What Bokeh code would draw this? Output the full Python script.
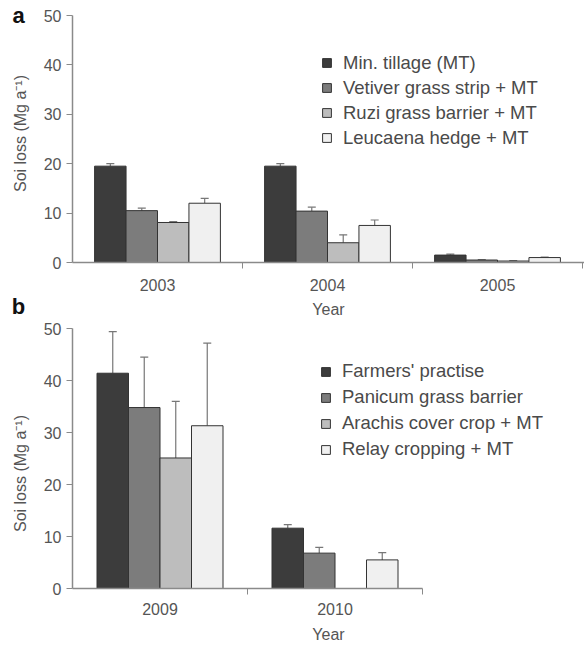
import math
from bokeh.plotting import figure
from bokeh.models import FixedTicker, Legend, LegendItem, Whisker, ColumnDataSource, TeeHead, Range1d
from bokeh.layouts import column, row
from bokeh.core.properties import value
from bokeh.embed import file_html
from bokeh.resources import INLINE

# ---- data: panel a ----
years_a = ["2003", "2004", "2005"]
series_a = ["Min. tillage (MT)", "Vetiver grass strip + MT", "Ruzi grass barrier + MT", "Leucaena hedge + MT"]
mt_a = [19.5, 19.5, 1.5]
mt_a_err = [0.5, 0.5, 0.2]
vetiver_a = [10.5, 10.4, 0.5]
vetiver_a_err = [0.5, 0.8, 0.1]
ruzi_a = [8.1, 4.0, 0.3]
ruzi_a_err = [0.2, 1.6, 0.1]
leucaena_a = [12.0, 7.5, 1.0]
leucaena_a_err = [1.0, 1.1, 0.1]

# ---- data: panel b ----
years_b = ["2009", "2010"]
series_b = ["Farmers' practise", "Panicum grass barrier", "Arachis cover crop + MT", "Relay cropping + MT"]
farmers_b = [41.4, 11.6]
farmers_b_err = [8.0, 0.7]
panicum_b = [34.8, 6.8]
panicum_b_err = [9.7, 1.1]
arachis_b = [25.1, None]
arachis_b_err = [10.9, None]
relay_b = [31.3, 5.5]
relay_b_err = [15.9, 1.4]

y_ticks = [0, 10, 20, 30, 40, 50]
y_title = "Soi loss (Mg a\u207b\u00b9)"
colors = ["#3c3c3c", "#7c7c7c", "#bdbdbd", "#f0f0f0"]
FONT = "Liberation Sans"
AXIS_COL = "#8a8a8a"
TEXT_COL = "#555555"
W = 584
H = 645
STRIP = 36          # left strip holding panel letters and y titles
LEFT = 72           # page x of the y axes


def make_panel(years, names, vals, errs, height, top_border, bar_w, cat_px,
               axis_bounds, legend_loc, row_h, tick_standoff, label_standoff):
    x_end = (W - LEFT) / cat_px
    p = figure(width=W - STRIP, height=height, output_backend="svg", toolbar_location=None,
               x_range=(0, x_end), y_range=(0, 50),
               min_border_left=LEFT - STRIP, min_border_right=0, min_border_top=top_border,
               min_border_bottom=0)
    p.grid.visible = False
    p.outline_line_color = None
    p.background_fill_color = "white"

    renderers = []
    n = len(names)
    for k in range(n):
        xs, tops, wx, lo, hi = [], [], [], [], []
        for i, (v, e) in enumerate(zip(vals[k], errs[k])):
            x = i + 0.5 + (k - (n - 1) / 2) * bar_w
            if v is None:
                continue
            xs.append(x)
            tops.append(v)
            if e:
                wx.append(x)
                lo.append(v)
                hi.append(v + e)
        r = p.vbar(x=xs, top=tops, width=bar_w, bottom=0, fill_color=colors[k],
                   line_color="#333333", line_width=1)
        renderers.append(r)
        src = ColumnDataSource(dict(x=wx, lower=lo, upper=hi))
        w = Whisker(source=src, base="x", lower="lower", upper="upper",
                    line_color="#777777", line_width=1.2,
                    upper_head=TeeHead(size=8, line_color="#777777", line_width=1.2),
                    lower_head=None)
        p.add_layout(w)

    # x axis
    xa = p.xaxis[0]
    xa.ticker = FixedTicker(ticks=[i + 0.5 for i in range(len(years))],
                            minor_ticks=[float(i) for i in range(1, len(years) + 1)])
    xa.major_label_overrides = {i + 0.5: y for i, y in enumerate(years)}
    xa.major_tick_line_color = None
    xa.major_tick_out = 0
    xa.major_tick_in = 0
    xa.minor_tick_out = 6
    xa.minor_tick_in = 0
    xa.minor_tick_line_color = AXIS_COL
    xa.axis_line_color = AXIS_COL
    xa.axis_line_width = 1.5
    xa.major_label_text_font = FONT
    xa.major_label_text_font_size = "16px"
    xa.major_label_text_color = TEXT_COL
    xa.major_label_standoff = tick_standoff
    xa.axis_label = "Year"
    xa.axis_label_text_font = FONT
    xa.axis_label_text_font_size = "16px"
    xa.axis_label_text_font_style = "normal"
    xa.axis_label_text_color = TEXT_COL
    xa.axis_label_standoff = label_standoff
    if axis_bounds is not None:
        xa.bounds = axis_bounds

    # y axis
    ya = p.yaxis[0]
    ya.ticker = FixedTicker(ticks=y_ticks)
    ya.minor_tick_line_color = None
    ya.major_tick_out = 6
    ya.major_tick_in = 0
    ya.major_tick_line_color = AXIS_COL
    ya.axis_line_color = AXIS_COL
    ya.axis_line_width = 1.5
    ya.major_label_text_font = FONT
    ya.major_label_text_font_size = "16px"
    ya.major_label_text_color = TEXT_COL
    ya.major_label_standoff = 5

    legend = Legend(items=[LegendItem(label=nm, renderers=[r]) for nm, r in zip(names, renderers)],
                    location=legend_loc, border_line_color=None, background_fill_alpha=0,
                    label_text_font=FONT, label_text_font_size="18.5px", label_text_color="#4a4a4a",
                    glyph_width=11, glyph_height=11, label_height=row_h, spacing=0,
                    padding=0, margin=0, label_standoff=11)
    p.add_layout(legend)
    return p


pa = make_panel(years_a, series_a,
                [mt_a, vetiver_a, ruzi_a, leucaena_a],
                [mt_a_err, vetiver_a_err, ruzi_a_err, leucaena_a_err],
                height=320, top_border=15, bar_w=0.185, cat_px=170, axis_bounds=None,
                legend_loc=(249, 112), row_h=25, tick_standoff=10, label_standoff=7)
pb = make_panel(years_b, series_b,
                [farmers_b, panicum_b, arachis_b, relay_b],
                [farmers_b_err, panicum_b_err, arachis_b_err, relay_b_err],
                height=325, top_border=8, bar_w=0.18, cat_px=175, axis_bounds=(0, 2),
                legend_loc=(248, 126), row_h=26, tick_standoff=8, label_standoff=8)

# left strip: panel letters and y-axis titles, in page-pixel coordinates
strip = figure(width=STRIP, height=H, output_backend="svg", toolbar_location=None,
               x_range=Range1d(0, STRIP), y_range=Range1d(H, 0),
               min_border=0, min_border_left=0, min_border_right=0,
               min_border_top=0, min_border_bottom=0)
strip.axis.visible = False
strip.grid.visible = False
strip.outline_line_color = None

strip.text(x=[18, 18], y=[15, 306], text=["a", "b"],
           text_font=value(FONT), text_font_size="22px", text_font_style="bold",
           text_align="center", text_baseline="middle", text_color="#111111")
strip.text(x=[19.5, 20], y=[133, 473], text=[y_title, y_title], angle=math.pi / 2,
           text_font=value(FONT), text_font_size="16px",
           text_align="center", text_baseline="middle", text_color=TEXT_COL)

layout = row(strip, column(pa, pb, spacing=0), spacing=0)
open("out.html", "w").write(file_html(layout, INLINE))
